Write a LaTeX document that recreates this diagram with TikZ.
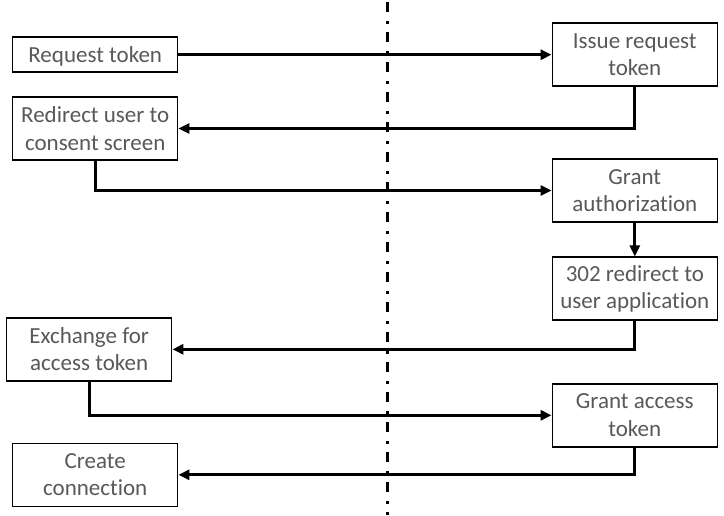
\documentclass[tikz,border=0pt]{standalone}
\usepackage{fontspec}
\setmainfont[Ligatures={NoCommon},RawFeature={-liga}]{Carlito}
\usetikzlibrary{arrows.meta}
\definecolor{txt}{HTML}{595959}
\begin{document}
\begin{tikzpicture}[x=1pt,y=-1pt,
  box/.style={draw=black,line width=1.5pt,fill=white,rectangle,minimum width=165pt,minimum height=63pt,inner sep=0pt,
    align=center,text=txt,font=\fontsize{23}{27.5}\selectfont},
  flow/.style={line width=3pt,-{Triangle[length=11pt,width=10pt]}}]
\useasboundingbox (0,0) rectangle (724,515);
\draw[line width=2.7pt,dash pattern=on 10pt off 9pt on 3pt off 8pt,dash phase=-2pt] (387.5,0) -- (387.5,515);
\node[box,minimum height=35pt,text depth=0pt] (req) at (95.2,54.7) {Request token};
\node[box] (redir) at (95.2,128.5) {Redirect user to\\consent screen};
\node[box] (exch) at (89.2,349.3) {Exchange for\\access token};
\node[box] (create) at (95.2,474.8) {Create\\connection};
\node[box] (issue) at (634.8,54.7) {Issue request\\token};
\node[box] (grant) at (634.8,190.5) {Grant\\authorization};
\node[box] (r302) at (634.8,288.7) {302 redirect to\\user application};
\node[box] (gacc) at (634.8,415.3) {Grant access\\token};
\draw[flow] (req.east) -- (issue.west);
\draw[flow] (issue.south) |- (redir.east);
\draw[flow] (redir.south) |- (grant.west);
\draw[flow] (grant.south) -- (r302.north);
\draw[flow] (r302.south) |- (exch.east);
\draw[flow] (exch.south) |- (gacc.west);
\draw[flow] (gacc.south) |- (create.east);
\end{tikzpicture}
\end{document}
